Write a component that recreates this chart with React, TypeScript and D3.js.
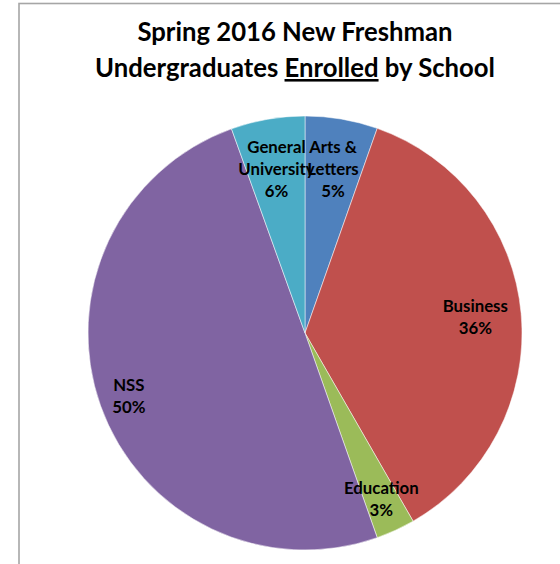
import React from "react";
import * as d3 from "d3";

const categories = ["Arts & Letters", "Business", "Education", "NSS", "General University"];
const labelLines = [["Arts &", "Letters"], ["Business"], ["Education"], ["NSS"], ["General", "University"]];
const values = [5.4, 36.3, 2.9, 49.9, 5.5];
const percentLabels = ["5%", "36%", "3%", "50%", "6%"];
const colors = ["#4F81BD", "#C0504D", "#9BBB59", "#8064A2", "#4BACC6"];

const W = 560, H = 564;
const cx = 305, cy = 333, R = 217;
const labelRadius = [166, 171, 183, 187, 166];
const FONT = "Lato, 'Open Sans', sans-serif";

export default function App() {
  const pie = d3.pie<number>().sort(null).value((d) => d);
  const arcs = pie(values);
  const arcGen = d3.arc<d3.PieArcDatum<number>>().innerRadius(0).outerRadius(R);

  return (
    <svg width={W} height={H} style={{ position: "absolute", left: 0, top: 0, background: "#fff" }}>
      <rect x={19} y={3.5} width={W} height={H} fill="#fff" stroke="#a6a6a6" strokeWidth={1.6} />
      <text x={295} y={41} textAnchor="middle" fontFamily={FONT} fontWeight="bold" fontSize={25.7} fill="#000">
        Spring 2016 New Freshman
      </text>
      <text x={295} y={77} textAnchor="middle" fontFamily={FONT} fontWeight="bold" fontSize={25.7} fill="#000">
        Undergraduates <tspan textDecoration="underline" style={{ textDecoration: "underline" }}>Enrolled</tspan> by School
      </text>
      <g transform={`translate(${cx},${cy})`}>
        {arcs.map((a, i) => (
          <path key={categories[i]} d={arcGen(a) || ""} fill={colors[i]} stroke="#fff" strokeWidth={0.5} />
        ))}
        {arcs.map((a, i) => {
          const mid = (a.startAngle + a.endAngle) / 2;
          const r = labelRadius[i];
          const x = r * Math.sin(mid);
          const y = -r * Math.cos(mid);
          const lines = [...labelLines[i], percentLabels[i]];
          const lh = 22;
          const y0 = y - ((lines.length - 1) * lh) / 2;
          return (
            <text key={"l" + i} textAnchor="middle" fontFamily={FONT} fontWeight="bold" fontSize={16.8} fill="#000">
              {lines.map((t, j) => (
                <tspan key={j} x={x} y={y0 + j * lh + 6}>{t}</tspan>
              ))}
            </text>
          );
        })}
      </g>
    </svg>
  );
}
